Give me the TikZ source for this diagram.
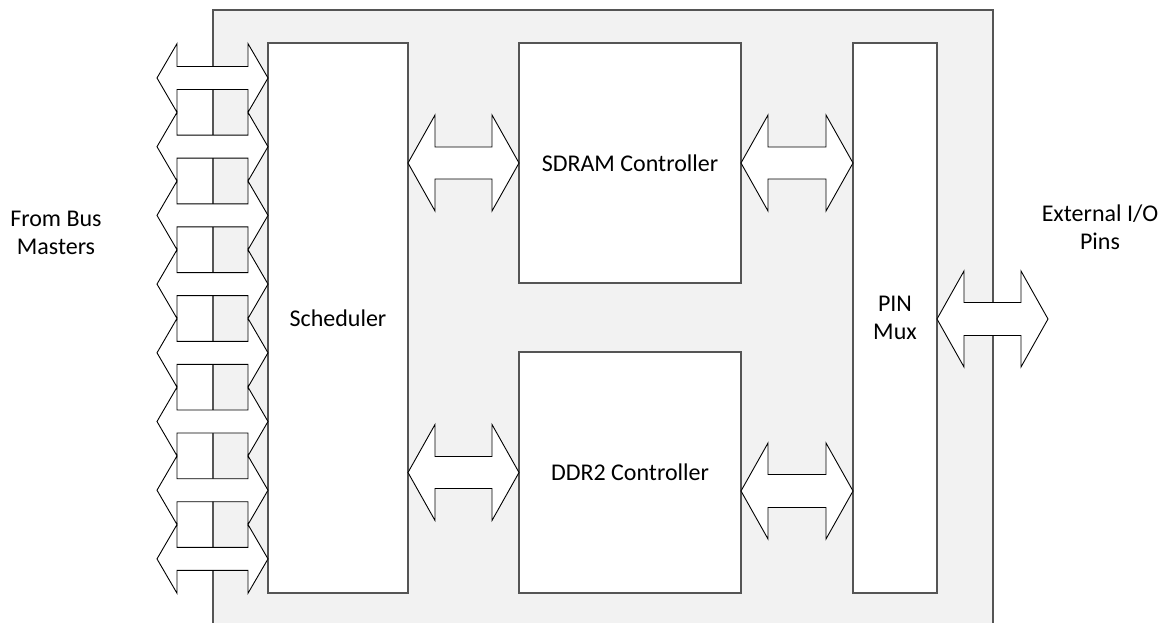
\documentclass[tikz,border=0pt]{standalone}
\usepackage{fontspec}
\setmainfont{Carlito}
\usetikzlibrary{calc, positioning}
\definecolor{chipgray}{RGB}{242,242,242}
\definecolor{edgegray}{RGB}{85,85,85}

% freccia doppia larga: #1 punta sx, #2 punta dx, #3 lungh. testa, #4 mezza testa, #5 mezzo fusto
\newcommand{\fatarrow}[5]{%
  \draw[fatline] let \p1=(#1), \p2=(#2) in
    (\p1) -- (\x1+#3,\y1+#4) -- (\x1+#3,\y1+#5) -- (\x2-#3,\y1+#5)
    -- (\x2-#3,\y1+#4) -- (\x2,\y1) -- (\x2-#3,\y1-#4) -- (\x2-#3,\y1-#5)
    -- (\x1+#3,\y1-#5) -- (\x1+#3,\y1-#4) -- cycle;}

\begin{document}
\begin{tikzpicture}[
    x=1pt, y=-1pt,
    block/.style={rectangle, draw=edgegray, fill=white, line width=1.2pt,
                  inner sep=0pt, outer sep=0pt, align=center,
                  font=\fontsize{24}{28}\selectfont},
    sidetext/.style={align=center, font=\fontsize{24}{28}\selectfont},
    fatline/.style={draw=black, fill=white, line width=0.9pt, line join=miter}
]
\useasboundingbox (0,0) rectangle (1165,623);

% contenitore (tagliato in basso)
\fill[chipgray] (213,10) rectangle (993,623);
\draw[edgegray, line width=1.2pt] (213,623) -- (213,10) -- (993,10) -- (993,623);

% blocchi
\node[block, minimum width=140pt, minimum height=550pt] (sched) at (338,318) {Scheduler};
\node[block, minimum width=222pt, minimum height=240pt] (sdram) at (630,163) {SDRAM Controller};
\node[block, minimum width=222pt, minimum height=241pt] (ddr) at (630,472.5) {DDR2 Controller};
\node[block, minimum width=84pt, minimum height=550pt] (pinmux) at (895,318) {PIN\\Mux};

\node[sidetext] (masters) at (56,233) {From Bus\\Masters};
\node[sidetext] (extpins) at (1100,227) {External I/O\\Pins};

% porte dei bus master
\foreach \i in {0,...,7}{
    \pgfmathsetmacro{\yy}{78+68.7*\i}
    \coordinate (bus\i) at (157,\yy);
    \fatarrow{bus\i}{sched.west |- bus\i}{20pt}{34.35pt}{11.5pt}
}

% collegamenti tra i blocchi
\coordinate (ddrio) at (741,491);
\coordinate (pinio) at (1048,319);
\fatarrow{sched.east |- sdram.west}{sdram.west}{27pt}{48pt}{16pt}
\fatarrow{sched.east |- ddr.west}{ddr.west}{27pt}{48pt}{16pt}
\fatarrow{sdram.east}{pinmux.west |- sdram.east}{27pt}{48pt}{16pt}
\fatarrow{ddrio}{pinmux.west |- ddrio}{27pt}{48pt}{16.5pt}
\fatarrow{pinmux.east |- pinio}{pinio}{27pt}{48pt}{16.5pt}
\end{tikzpicture}
\end{document}
